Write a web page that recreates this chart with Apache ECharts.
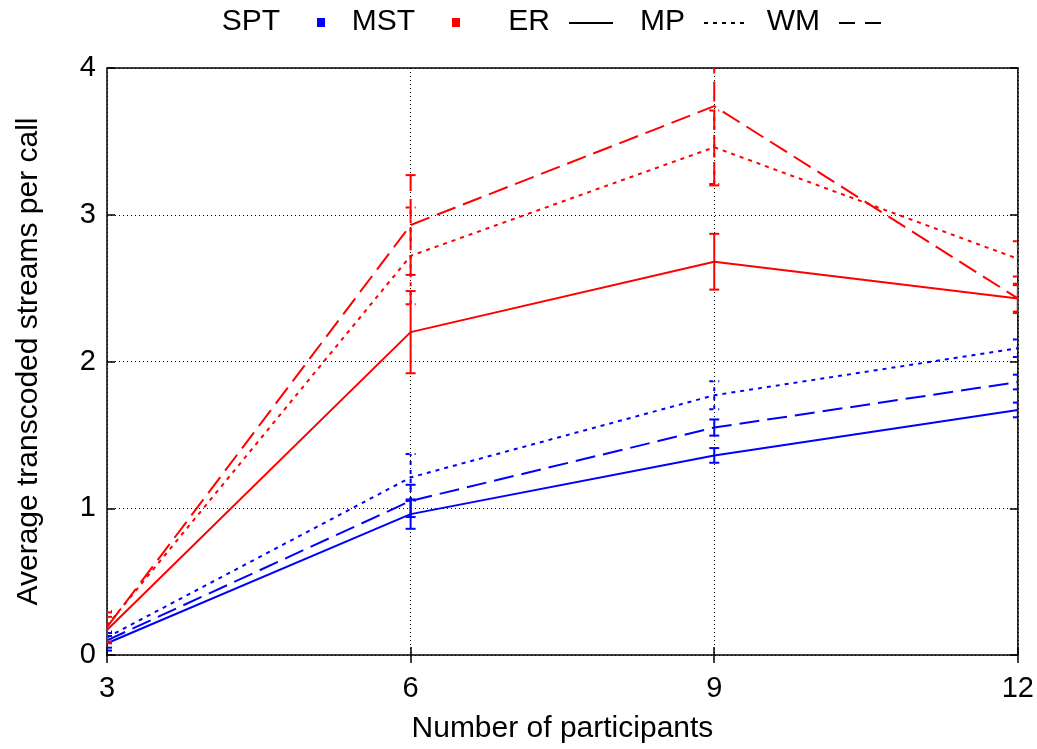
<!DOCTYPE html>
<html>
<head>
<meta charset="utf-8">
<script src="https://cdn.jsdelivr.net/npm/echarts@6/dist/echarts.min.js"></script>
<style>html,body{margin:0;padding:0;background:#fff}#c{width:1037px;height:749px}</style>
</head>
<body>
<div id="c"></div>
<script>
// ---- data ----
var participants = [3, 6, 9, 12];
var xTicks = [3, 6, 9, 12];
var yTicks = [0, 1, 2, 3, 4];

// SPT (blue)
var sptER = [0.08, 0.96, 1.36, 1.67];
var sptERerr = [0.05, 0.10, 0.05, 0.05];
var sptMP = [0.12, 1.21, 1.77, 2.09];
var sptMPerr = [0.04, 0.16, 0.095, 0.06];
var sptWM = [0.10, 1.05, 1.55, 1.86];
var sptWMerr = [0.05, 0.11, 0.055, 0.05];

// MST (red)
var mstER = [0.17, 2.20, 2.68, 2.43];
var mstERerr = [0.09, 0.28, 0.19, 0.09];
var mstMP = [0.20, 2.72, 3.46, 2.70];
var mstMPerr = [0.10, 0.33, 0.25, 0.12];
var mstWM = [0.19, 2.93, 3.74, 2.43];
var mstWMerr = [0.10, 0.34, 0.54, 0.10];

// legend entries
var keyNames = ['SPT', 'MST', 'ER', 'MP', 'WM'];

var FONT = 'Liberation Sans';
var BLUE = '#0000ff', RED = '#ff0000';
var DOT = [4, 5], DASH = [20, 8];

function pts(vals) { return participants.map(function (x, i) { return [x, vals[i]]; }); }
function errs(vals, e) { return participants.map(function (x, i) { return [x, vals[i] - e[i], vals[i] + e[i]]; }); }

function lineSeries(name, vals, color, dash) {
  return {
    type: 'line', name: name, data: pts(vals), symbol: 'none', silent: true,
    lineStyle: { color: color, width: 2, type: dash || 'solid' }, z: 3
  };
}
function errSeries(vals, e, color, dash) {
  return {
    type: 'custom', data: errs(vals, e), clip: true, silent: true, z: 4,
    renderItem: function (params, api) {
      var x = api.value(0);
      var lo = api.coord([x, api.value(1)]);
      var hi = api.coord([x, api.value(2)]);
      var w = 5;
      var st = { stroke: color, lineWidth: 2, lineDash: dash || null, fill: null };
      return {
        type: 'group', children: [
          { type: 'line', shape: { x1: lo[0], y1: lo[1], x2: hi[0], y2: hi[1] }, style: st },
          { type: 'line', shape: { x1: lo[0] - w, y1: lo[1], x2: lo[0] + w, y2: lo[1] }, style: st },
          { type: 'line', shape: { x1: hi[0] - w, y1: hi[1], x2: hi[0] + w, y2: hi[1] }, style: st }
        ]
      };
    },
    encode: { x: 0, y: [1, 2] }
  };
}

var chart = echarts.init(document.getElementById('c'));
var G = { left: 107, right: 19, top: 68, bottom: 92 };
var legendY = 22;

// key layout: entry period 135px, sample 44px wide, text right-justified before sample
var keyGraphics = [];
var sampleStart0 = 299, period = 135, sampleLen = 44;
keyNames.forEach(function (nm, i) {
  var s0 = sampleStart0 + i * period;
  keyGraphics.push({ type: 'text', x: s0 - 19, y: legendY,
    style: { text: nm, fontFamily: FONT, fontSize: 30, fill: '#000', align: 'right', verticalAlign: 'middle' } });
  var mid = s0 + sampleLen / 2;
  if (i < 2) {
    keyGraphics.push({ type: 'rect', shape: { x: mid - 4, y: legendY - 4, width: 8, height: 9 },
      style: { fill: i === 0 ? BLUE : RED } });
  } else {
    var dash = i === 2 ? null : (i === 3 ? DOT : [16, 10]);
    keyGraphics.push({ type: 'line', shape: { x1: s0, y1: legendY + 1, x2: s0 + sampleLen, y2: legendY + 1 },
      style: { stroke: '#000', lineWidth: 2, lineDash: dash } });
  }
});

chart.setOption({
  animation: false,
  backgroundColor: '#fff',
  grid: { left: G.left, right: G.right, top: G.top, bottom: G.bottom, show: true, borderColor: '#000', borderWidth: 1.5 },
  xAxis: [{
    type: 'value', min: 3, max: 12, interval: 3,
    name: 'Number of participants', nameLocation: 'middle', nameGap: 59,
    nameTextStyle: { fontFamily: FONT, fontSize: 30, color: '#000' },
    axisLine: { show: false },
    axisTick: { show: true, inside: true, length: 8, lineStyle: { color: '#000', width: 1.5 } },
    axisLabel: { fontFamily: FONT, fontSize: 29, color: '#000', margin: 19,
      formatter: function (v) { return xTicks.indexOf(v) >= 0 ? String(v) : ''; } },
    splitLine: { show: true, lineStyle: { color: '#000', width: 1, type: [1, 3] } }
  }, {
    type: 'value', min: 3, max: 12, interval: 3, position: 'top',
    axisLine: { show: false }, axisLabel: { show: false }, splitLine: { show: false },
    axisTick: { show: true, inside: true, length: 8, lineStyle: { color: '#000', width: 1.5 } }
  }],
  yAxis: [{
    type: 'value', min: 0, max: 4, interval: 1,
    name: 'Average transcoded streams per call', nameLocation: 'middle', nameGap: 63,
    nameTextStyle: { fontFamily: FONT, fontSize: 30, color: '#000' },
    axisLine: { show: false },
    axisTick: { show: true, inside: true, length: 8, lineStyle: { color: '#000', width: 1.5 } },
    axisLabel: { fontFamily: FONT, fontSize: 29, color: '#000', margin: 11,
      formatter: function (v) { return yTicks.indexOf(v) >= 0 ? String(v) : ''; } },
    splitLine: { show: true, lineStyle: { color: '#000', width: 1, type: [1, 3] } }
  }, {
    type: 'value', min: 0, max: 4, interval: 1, position: 'right',
    axisLine: { show: false }, axisLabel: { show: false }, splitLine: { show: false },
    axisTick: { show: true, inside: true, length: 8, lineStyle: { color: '#000', width: 1.5 } }
  }],
  graphic: keyGraphics,
  series: [
    lineSeries('SPT ER', sptER, BLUE), errSeries(sptER, sptERerr, BLUE),
    lineSeries('SPT MP', sptMP, BLUE, DOT), errSeries(sptMP, sptMPerr, BLUE, DOT),
    lineSeries('SPT WM', sptWM, BLUE, DASH), errSeries(sptWM, sptWMerr, BLUE, DASH),
    lineSeries('MST ER', mstER, RED), errSeries(mstER, mstERerr, RED),
    lineSeries('MST MP', mstMP, RED, DOT), errSeries(mstMP, mstMPerr, RED, DOT),
    lineSeries('MST WM', mstWM, RED, DASH), errSeries(mstWM, mstWMerr, RED, DASH)
  ]
});
</script>
</body>
</html>
